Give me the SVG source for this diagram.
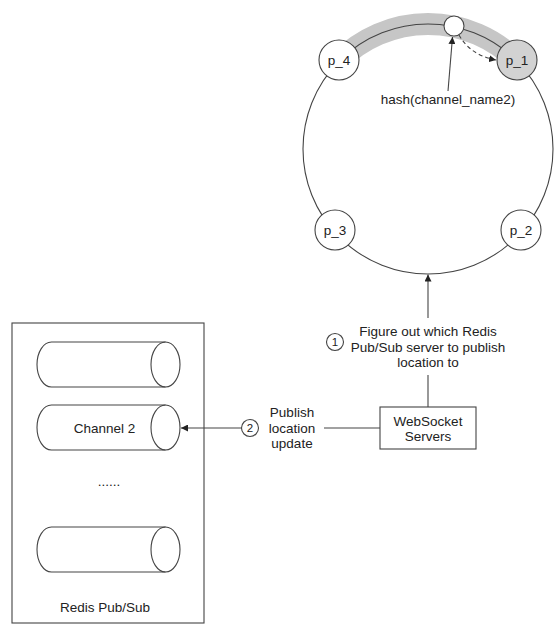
<svg xmlns="http://www.w3.org/2000/svg" width="560" height="632" viewBox="0 0 560 632">
<style>
  text { font-family: "Liberation Sans", Arial, sans-serif; font-size: 13.5px; fill: #222; }
  .mid { text-anchor: middle; }
  .ln { fill: none; stroke: #444; stroke-width: 1.1; }
  .node { fill: #fff; stroke: #444; stroke-width: 1.1; }
  .num { font-size: 11.5px; }
</style>
<defs>
  <marker id="arr" viewBox="0 0 10 10" refX="10" refY="5" markerWidth="7" markerHeight="7" markerUnits="userSpaceOnUse" orient="auto">
    <path d="M0,0 L10,5 L0,10 z" fill="#222"/>
  </marker>
</defs>
<rect width="560" height="632" fill="#fff"/>

<g id="ring">
  <path d="M339.6,60.6 A125,125 0 0 1 516.4,60.6" fill="none" stroke="#c6c6c6" stroke-width="22"/>
  <circle cx="428" cy="149" r="125" class="ln"/>
</g>

<g id="hash-point">
  <circle cx="454" cy="26" r="10" class="node"/>
</g>

<g id="p_4"><circle cx="339" cy="60" r="20" class="node"/><text x="339" y="64.5" class="mid">p_4</text></g>
<g id="p_1"><circle cx="517" cy="60" r="20" class="node" style="fill:#d2d2d2"/><text x="517" y="64.5" class="mid">p_1</text></g>
<g id="p_3"><circle cx="335" cy="230" r="20" class="node"/><text x="335" y="234.5" class="mid">p_3</text></g>
<g id="p_2"><circle cx="521" cy="230" r="20" class="node"/><text x="521" y="234.5" class="mid">p_2</text></g>

<g id="hash-label"><text x="448" y="104" class="mid">hash(channel_name2)</text></g>

<g id="websocket">
  <rect x="380" y="407" width="96" height="42" class="node"/>
  <text x="428" y="425.5" class="mid">WebSocket</text>
  <text x="428" y="440.5" class="mid">Servers</text>
</g>

<g id="step1">
  <circle cx="335" cy="342" r="8.5" class="node"/>
  <text x="335" y="346" class="mid num">1</text>
  <text x="428" y="335.5" class="mid">Figure out which Redis</text>
  <text x="428" y="351.5" class="mid">Pub/Sub server to publish</text>
  <text x="428" y="367" class="mid">location to</text>
</g>

<g id="step2">
  <circle cx="250" cy="428" r="8.5" class="node"/>
  <text x="250" y="432" class="mid num">2</text>
  <text x="292" y="417" class="mid">Publish</text>
  <text x="292" y="432.5" class="mid">location</text>
  <text x="292" y="448" class="mid">update</text>
</g>

<g id="redis">
  <rect x="12" y="323" width="192" height="300" class="node"/>
  <g id="cyl1">
    <path d="M165.5,342 H51.5 A14.5,22.5 0 0 0 51.5,387 H165.5" class="ln"/>
    <ellipse cx="165.5" cy="364.5" rx="14.5" ry="22.5" class="ln"/>
  </g>
  <g id="channel2">
    <path d="M165.5,405 H51.5 A14.5,22.5 0 0 0 51.5,450 H165.5" class="ln"/>
    <ellipse cx="165.5" cy="427.5" rx="14.5" ry="22.5" class="ln"/>
    <text x="104.5" y="432.5" class="mid">Channel 2</text>
  </g>
  <text x="109" y="486" class="mid">......</text>
  <g id="cyl3">
    <path d="M165.5,527 H51.5 A14.5,22.5 0 0 0 51.5,572 H165.5" class="ln"/>
    <ellipse cx="165.5" cy="549.5" rx="14.5" ry="22.5" class="ln"/>
  </g>
  <text x="105" y="612" class="mid">Redis Pub/Sub</text>
</g>

<g id="connectors">
  <line x1="448" y1="91" x2="452.5" y2="37" class="ln" marker-end="url(#arr)"/>
  <path d="M459,35 Q470,55 496,60" class="ln" stroke-dasharray="4,3" marker-end="url(#arr)"/>
  <line x1="428" y1="318" x2="428" y2="274.5" class="ln" marker-end="url(#arr)"/>
  <line x1="428" y1="375" x2="428" y2="407" class="ln"/>
  <line x1="380" y1="428" x2="324" y2="428" class="ln"/>
  <line x1="241" y1="428" x2="181" y2="428" class="ln" marker-end="url(#arr)"/>
</g>
</svg>
